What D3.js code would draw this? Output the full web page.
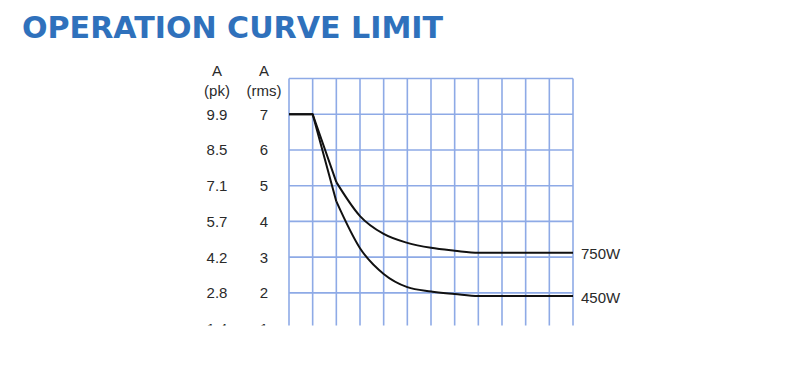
<!DOCTYPE html>
<html>
<head>
<meta charset="utf-8">
<script src="https://cdn.jsdelivr.net/npm/d3@7"></script>
<style>
html,body{margin:0;padding:0;background:#fff;}
svg{display:block;}
</style>
</head>
<body>
<svg id="chart" width="794" height="386"></svg>
<script>
// ---- data ----
const xSteps = [0,1,2,3,4,5,6,7,8,9,10,11,12];
const rmsTicks = [7,6,5,4,3,2,1];
const pkTicks = ["9.9","8.5","7.1","5.7","4.2","2.8","1.4"];
const gridRows = [1,2,3,4,5,6,7,8];
const seriesNames = ["750W","450W"];
const values750 = [7,7,5.1,4.15,3.65,3.4,3.26,3.18,3.12,3.12,3.12,3.12,3.12];
const values450 = [7,7,4.56,3.25,2.53,2.16,2.04,1.97,1.91,1.91,1.91,1.91,1.91];

const svg = d3.select("#chart");
const x = d3.scaleLinear().domain([0,12]).range([289,573]);
const y = d3.scaleLinear().domain([1,8]).range([328.6,78.5]);

svg.append("text")
  .attr("x",22).attr("y",38)
  .attr("font-family","DejaVu Sans").attr("font-weight","bold")
  .attr("font-size",30.5).attr("fill","#2f71bc")
  .attr("textLength",421).attr("lengthAdjust","spacingAndGlyphs")
  .text("OPERATION CURVE LIMIT");

svg.append("defs").append("clipPath").attr("id","clip")
  .append("rect").attr("x",0).attr("y",0).attr("width",794).attr("height",325.5);

const g = svg.append("g").attr("clip-path","url(#clip)");

// grid
const gridColor = "#8eaae6";
g.selectAll("line.v").data(xSteps).enter().append("line")
  .attr("x1",d=>x(d)).attr("x2",d=>x(d))
  .attr("y1",y(8)).attr("y2",y(0.5))
  .attr("stroke",gridColor).attr("stroke-width",1.6);
g.selectAll("line.h").data(gridRows).enter().append("line")
  .attr("x1",x(0)).attr("x2",x(12))
  .attr("y1",d=>y(d)).attr("y2",d=>y(d))
  .attr("stroke",gridColor).attr("stroke-width",1.6);

// axis labels
const font = "Liberation Sans, Arial, sans-serif";
const lbl = (tx,ty,t,anchor)=>g.append("text").attr("x",tx).attr("y",ty)
  .attr("font-family",font).attr("font-size",15).attr("fill","#2a2a2a")
  .attr("text-anchor",anchor||"middle").attr("dominant-baseline","central").text(t);
lbl(217,70,"A"); lbl(217,90,"(pk)");
lbl(264,70,"A"); lbl(264,90,"(rms)");
rmsTicks.forEach((v,i)=>{
  lbl(217,y(v),pkTicks[i]);
  lbl(264,y(v),String(v));
});

// curves: straight drop from plateau, then smooth decay
function drawSeries(vals){
  const pts = xSteps.map((s,i)=>[x(s),y(vals[i])]);
  const lin = d3.line().curve(d3.curveLinear)(pts.slice(0,3));
  const smooth = d3.line().curve(d3.curveMonotoneX)(pts.slice(2));
  g.append("path").attr("d",lin).attr("fill","none").attr("stroke","#111")
    .attr("stroke-width",2).attr("stroke-linejoin","round");
  g.append("path").attr("d",smooth).attr("fill","none").attr("stroke","#111")
    .attr("stroke-width",2).attr("stroke-linejoin","round");
}
drawSeries(values750);
drawSeries(values450);

// series labels
[values750, values450].forEach((vals,i)=>{
  g.append("text").attr("x",581).attr("y",y(vals[vals.length-1])+1)
    .attr("font-family",font).attr("font-size",15).attr("fill","#2a2a2a")
    .attr("dominant-baseline","central").text(seriesNames[i]);
});
</script>
</body>
</html>
